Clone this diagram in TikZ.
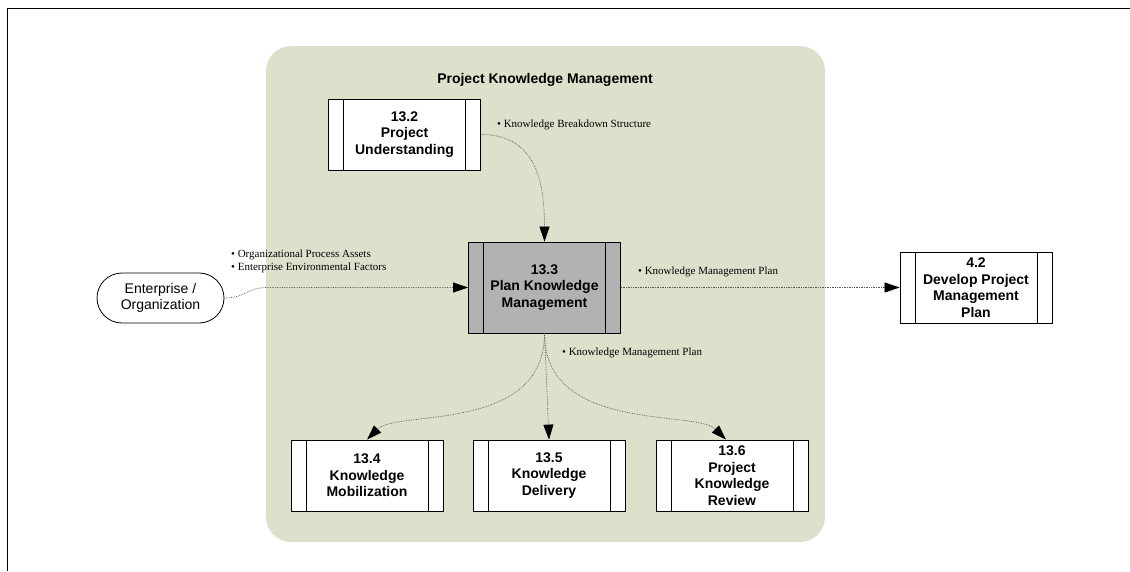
\documentclass[tikz,border=0pt]{standalone}
\usepackage{fontspec}
\setmainfont{Liberation Serif}
\setsansfont{Liberation Sans}
\usetikzlibrary{arrows.meta}
\definecolor{pkmgreen}{RGB}{221,225,203}
\definecolor{pkmgray}{RGB}{178,178,178}
\definecolor{flowgray}{RGB}{85,85,85}
\tikzstyle{proc} = [draw, line width=0.8pt, fill=white, minimum width=152pt, minimum height=71pt,
	inner sep=0pt, align=center, font=\sffamily\bfseries\fontsize{14}{16.5}\selectfont,
	path picture={
		\draw[line width=0.8pt] ([xshift=15pt]path picture bounding box.north west) -- ([xshift=15pt]path picture bounding box.south west);
		\draw[line width=0.8pt] ([xshift=-15pt]path picture bounding box.north east) -- ([xshift=-15pt]path picture bounding box.south east);
	}]
\tikzstyle{procsel} = [proc, fill=pkmgray, minimum height=91pt]
\tikzstyle{ext} = [draw, line width=0.8pt, fill=white, rounded corners=25pt, minimum width=127pt,
	minimum height=50pt, align=center, font=\sffamily\fontsize{14}{16.5}\selectfont]
\tikzstyle{flow} = [draw=flowgray, densely dotted, line width=0.7pt,
	-{Triangle[length=15pt,width=10pt,color=black]}]
\tikzstyle{lbl} = [anchor=west, inner sep=0pt, align=left, font=\fontsize{11}{13}\selectfont]
\tikzstyle{areatitle} = [font=\sffamily\bfseries\fontsize{14}{16}\selectfont]

\begin{document}
\begin{tikzpicture}[x=1pt, y=-1pt]
	\useasboundingbox (0,0) rectangle (1130,571);
	\draw[line width=0.8pt] (7,571) -- (7,8) -- (1130,8);

	% knowledge area
	\fill[pkmgreen, rounded corners=25pt] (266,46) rectangle (825,542);
	\node[areatitle] (pkmtitle) at (545,80) {Project Knowledge Management};

	% processes
	\node[proc] (pu) at (404.5,134.5) {13.2\\Project\\Understanding};
	\node[procsel] (pkm) at (544.5,287.5) {13.3\\Plan Knowledge\\Management};
	\node[proc] (dpmp) at (976,287.5) {4.2\\Develop Project\\Management\\Plan};
	\node[ext] (ent) at (160.5,298) {Enterprise /\\Organization};
	\node[proc] (km) at (367,475.5) {13.4\\Knowledge\\Mobilization};
	\node[proc] (kd) at (549,475.5) {13.5\\Knowledge\\Delivery};
	\node[proc] (kr) at (732,475.5) {13.6\\Project\\Knowledge\\Review};

	% flows
	\draw[flow] (pu.east) .. controls +(55,0) and +(0,-60) .. (pkm.north);
	\draw[flow] (ent.east) .. controls +(22,0) and +(-22,0) .. ([xshift=-200pt]pkm.west) -- (pkm.west);
	\draw[flow] (pkm.south) -- (kd.north);
	\draw[flow] (pkm.east) -- (dpmp.west);
	\draw[flow] (pkm.south) .. controls +(0,100) and +(30,-30) .. (km.north);
	\draw[flow] (pkm.south) .. controls +(0,100) and +(-30,-30) .. ([xshift=-6pt]kr.north);

	% flow labels
	\node[lbl] (kbs) at (497,125) {\textbullet\ Knowledge Breakdown Structure};
	\node[lbl] (opa) at (231,261.5) {\textbullet\ Organizational Process Assets\\\textbullet\ Enterprise Environmental Factors};
	\node[lbl] (kmpout) at (638,272) {\textbullet\ Knowledge Management Plan};
	\node[lbl] (kmpdown) at (562,353) {\textbullet\ Knowledge Management Plan};
\end{tikzpicture}
\end{document}
